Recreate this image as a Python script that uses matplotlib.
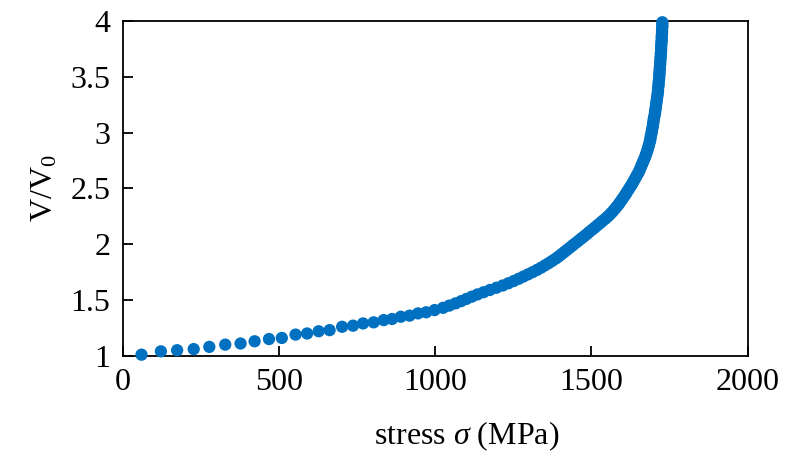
import matplotlib
matplotlib.use("Agg")
from matplotlib import pyplot as plt

# stress (MPa) and relative volume V/V0
stress = [60, 122, 174, 227, 277, 328, 377, 422, 468, 509, 553, 590, 627,
          662, 702, 737, 769, 803, 835, 862, 890, 918, 945, 971, 998, 1025,
          1045, 1065, 1083, 1100, 1117, 1135, 1155, 1175, 1196, 1216,
          1234, 1251, 1267, 1282, 1297, 1312, 1326, 1339,
          1351, 1363, 1374, 1385, 1395, 1404, 1413, 1422, 1431, 1440,
          1449, 1458, 1467, 1476, 1485, 1493, 1502, 1511, 1519, 1528,
          1536, 1545, 1553, 1560, 1567, 1573, 1579, 1585, 1590, 1595,
          1600, 1605, 1610, 1614, 1619, 1623, 1628, 1632, 1636, 1640,
          1644, 1648, 1652, 1655, 1658, 1661, 1664, 1667, 1670, 1673,
          1675, 1678, 1680, 1682, 1684, 1686, 1688, 1689, 1690, 1692,
          1693, 1694, 1696, 1697, 1698, 1699, 1700, 1702, 1703, 1704,
          1705, 1706, 1707, 1708, 1709, 1710, 1711, 1712, 1713, 1713,
          1714, 1715, 1715, 1716, 1717, 1717, 1718, 1718, 1719, 1719,
          1720, 1720, 1721, 1721, 1722, 1722, 1723, 1723, 1723, 1724,
          1724, 1725, 1725, 1725, 1726, 1726, 1726, 1727, 1727, 1727]
volume = [1.01, 1.04, 1.05, 1.06, 1.08, 1.10, 1.11, 1.13, 1.15, 1.16, 1.19,
          1.20, 1.22, 1.23, 1.26, 1.27, 1.29, 1.30, 1.32, 1.33, 1.35, 1.36,
          1.38, 1.39, 1.41, 1.43,
          1.45, 1.47, 1.49, 1.51, 1.53, 1.55, 1.57, 1.59, 1.61, 1.63,
          1.65, 1.67, 1.69, 1.71, 1.73, 1.75, 1.77, 1.79,
          1.81, 1.83, 1.85, 1.87, 1.89, 1.91, 1.93, 1.95, 1.97, 1.99,
          2.01, 2.03, 2.05, 2.07, 2.09, 2.11, 2.13, 2.15, 2.17, 2.19,
          2.21, 2.23, 2.25, 2.27, 2.29, 2.31, 2.33, 2.35, 2.37, 2.39,
          2.41, 2.43, 2.45, 2.47, 2.49, 2.51, 2.53, 2.55, 2.57, 2.59,
          2.61, 2.63, 2.65, 2.67, 2.69, 2.71, 2.73, 2.75, 2.77, 2.79,
          2.81, 2.83, 2.85, 2.87, 2.89, 2.91, 2.93, 2.95, 2.97, 2.99,
          3.01, 3.03, 3.05, 3.07, 3.09, 3.11, 3.13, 3.15, 3.17, 3.19,
          3.21, 3.23, 3.25, 3.27, 3.29, 3.31, 3.33, 3.35, 3.37, 3.39,
          3.41, 3.43, 3.45, 3.47, 3.49, 3.51, 3.53, 3.55, 3.57, 3.59,
          3.61, 3.63, 3.65, 3.67, 3.69, 3.71, 3.73, 3.75, 3.77, 3.79,
          3.81, 3.83, 3.85, 3.87, 3.89, 3.91, 3.93, 3.95, 3.97, 3.99]

plt.rcParams["font.family"] = "Liberation Serif"
plt.rcParams["mathtext.fontset"] = "custom"
plt.rcParams["mathtext.rm"] = "Liberation Serif"
plt.rcParams["mathtext.it"] = "Liberation Serif:italic"

fig = plt.figure(figsize=(7.87, 4.70), dpi=100)
ax = fig.add_axes([0.156, 0.243, 0.794, 0.712])

ax.scatter(stress, volume, s=78, color="#0070C0", edgecolors="none",
           zorder=3, clip_on=False)

ax.set_xlim(0, 2000)
ax.set_ylim(1, 4)
ax.set_xticks([0, 500, 1000, 1500, 2000])
ax.set_yticks([1, 1.5, 2, 2.5, 3, 3.5, 4])
ax.set_yticklabels(["1", "1.5", "2", "2.5", "3", "3.5", "4"])
ax.tick_params(direction="in", length=7, width=1.3, labelsize=23,
               colors="black", pad=9)
for sp in ax.spines.values():
    sp.set_linewidth(1.3)

ax.set_xlabel(r"stress $\it{\sigma}$ (MPa)", fontsize=23, labelpad=24)
ax.xaxis.set_label_coords(0.55, -0.19)
ax.set_ylabel(r"V/V$_0$", fontsize=23, labelpad=8)

plt.savefig("out.png", dpi=100)
plt.close()
